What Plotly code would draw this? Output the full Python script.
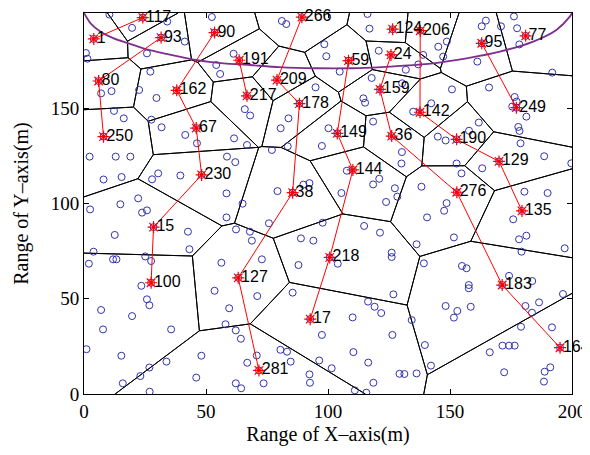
import plotly.graph_objects as go

# ---------------- data ----------------
ch_labels = ["1", "117", "93", "80", "250", "90", "162", "67", "230", "15", "100",
             "191", "217", "266", "209", "178", "38", "127", "281",
             "206", "142", "190", "129", "135",
             "59", "149", "144", "218", "17",
             "24", "159", "36", "276", "183", "164",
             "95", "249", "124", "77"]
ch_x = [4.0, 24.1, 31.6, 6.0, 8.0, 53.5, 38.0, 46.0, 48.2, 28.5, 27.5,
        63.6, 66.8, 89.3, 79.1, 88.3, 85.5, 63.2, 71.7,
        137.8, 137.7, 152.7, 170.1, 179.5,
        108.4, 103.8, 110.2, 100.7, 92.7,
        125.8, 121.3, 126.1, 152.8, 171.4, 195.1,
        163.0, 177.2, 126.5, 181.0]
ch_y = [186.4, 197.6, 187.1, 164.3, 135.1, 189.7, 159.4, 139.6, 115.0, 87.6, 58.4,
        175.2, 156.5, 197.8, 164.8, 152.4, 105.7, 61.0, 12.4,
        190.7, 147.9, 133.7, 122.1, 96.1,
        175.0, 136.8, 117.6, 71.7, 39.3,
        178.0, 159.9, 135.4, 105.9, 57.2, 24.3,
        184.1, 150.3, 191.5, 188.0]

# routing links between cluster heads (pairs of labels)
link_from = ["117", "93", "80", "90", "162", "67", "230", "15",
             "191", "266", "209", "178", "38", "127",
             "206", "142", "190", "129",
             "59", "149", "144", "218",
             "24", "159", "36", "276", "183", "95"]
link_to = ["1", "80", "250", "162", "67", "230", "15", "100",
           "217", "209", "178", "38", "127", "281",
           "142", "190", "129", "135",
           "149", "144", "218", "17",
           "159", "36", "276", "183", "164", "249"]

# ordinary sensor nodes
node_x = [
    10.4, 19.7, 34.1, 41.3, 52.4, 0.8, 1.4, 25.8, 27.2, 22.6, 29.7, 7.0, 11.3, 12.3, 16.3,
    27.6, 31.8, 41.5, 46.3, 61.5, 66.8, 65.9, 68.1, 61.3, 54.2, 55.8, 2.3, 13.0, 19.0, 8.0,
    15.4, 30.4, 27.9, 39.5, 58.6, 62.0, 58.4, 14.9,
    81.1, 82.9, 98.5, 99.3, 116.2, 117.0, 120.8, 104.8, 117.9, 130.4, 131.9, 137.0, 139.0,
    94.9, 114.5, 115.2, 118.5, 83.8, 80.6, 100.2, 97.5, 83.5, 77.0, 130.3, 130.1, 127.4,
    118.5, 121.0, 107.7, 105.5, 123.8, 128.4, 79.3, 89.9, 92.4, 138.3, 134.9,
    145.2, 148.7, 147.2, 164.7, 163.0, 170.9, 176.2, 177.5, 178.4, 161.2, 191.9, 150.8,
    166.0, 142.3, 176.5, 177.3, 175.5, 181.3, 178.0, 178.5, 161.8, 157.8, 145.0, 148.2,
    178.9, 188.6, 199.7, 152.7, 154.7, 163.2, 180.5, 190.0, 148.6, 147.6,
    2.5, 22.2, 23.8, 25.8, 12.6, 3.9, 2.0, 11.9, 13.3, 25.1, 27.5, 42.6, 43.2, 23.5, 25.8,
    26.8, 7.0, 19.7, 7.8, 35.7, 1.0, 15.3, 26.8, 33.8, 23.1, 15.9, 26.9, 48.1, 46.0,
    65.0, 58.4, 62.3, 68.0, 68.8, 75.8, 56.3, 72.9, 53.5, 59.5, 71.0, 58.0, 62.2, 64.3,
    70.8, 66.9, 80.5, 83.2, 84.7, 62.2, 64.4, 73.6, 85.5, 87.9, 88.9, 94.0, 97.5, 96.4,
    92.4, 92.6, 97.8, 114.8, 121.3, 126.1, 126.1, 104.0, 126.8, 116.4, 119.1, 121.8,
    110.1, 126.4, 110.4, 101.5, 116.5, 129.3, 131.3, 118.6, 111.0, 115.7,
    140.6, 136.3, 151.6, 175.9, 178.3, 181.3, 179.3, 197.0, 139.3, 154.9, 156.8, 157.7,
    157.7, 158.5, 153.0, 151.6, 148.2, 134.3, 139.7, 142.2, 136.3, 166.3, 171.5, 174.2,
    176.5, 172.2, 174.2, 183.7, 180.9, 186.5, 183.6, 179.1, 191.8, 196.3, 188.8, 191.1, 188.5]
node_y = [
    199.2, 192.2, 195.5, 185.0, 197.9, 179.0, 176.0, 178.8, 169.2, 159.6, 155.4, 157.8, 159.0, 148.6, 144.7,
    144.0, 140.0, 136.0, 131.6, 134.2, 130.7, 149.5, 146.2, 178.6, 172.7, 168.0, 124.6, 124.6, 124.6, 112.6,
    113.9, 115.8, 112.7, 114.7, 124.6, 121.7, 105.3, 99.6,
    195.8, 194.2, 183.6, 177.3, 199.5, 191.8, 180.2, 169.2, 165.9, 163.1, 170.2, 173.0, 178.0,
    161.0, 155.2, 152.9, 143.0, 144.7, 139.5, 139.5, 130.2, 130.0, 128.1, 127.0, 121.0, 108.0,
    110.0, 113.0, 117.2, 105.5, 100.8, 103.6, 106.5, 109.9, 110.7, 108.8, 148.2,
    182.3, 185.0, 177.1, 196.0, 193.0, 193.0, 198.2, 192.0, 183.5, 174.5, 168.7, 159.9,
    160.9, 152.6, 155.9, 153.5, 150.9, 145.6, 140.2, 138.1, 142.5, 138.2, 135.1, 133.1,
    131.6, 124.8, 121.1, 121.0, 115.8, 118.5, 106.2, 105.5, 100.2, 96.2,
    96.9, 102.7, 95.2, 96.4, 83.5, 74.7, 68.4, 70.7, 70.7, 72.2, 69.8, 85.2, 76.0, 56.8, 49.7,
    46.6, 44.1, 40.9, 33.9, 33.9, 23.5, 20.1, 13.9, 17.0, 9.4, 5.6, 1.2, 20.1, 8.6,
    99.9, 92.7, 86.4, 85.2, 80.5, 89.6, 68.9, 70.7, 54.2, 45.0, 51.4, 36.6, 33.4, 29.0,
    20.2, 16.4, 23.2, 22.2, 17.0, 5.6, 3.0, 5.6, 53.2, 67.7, 81.7, 80.5, 31.0, 17.6,
    10.3, 5.9, 89.9, 88.2, 84.7, 74.2, 71.9, 68.4, 52.3, 48.5, 45.8, 42.5,
    40.2, 31.0, 22.0, 13.5, 16.5, 10.6, 10.5, 5.9, 1.9, 0.7,
    92.7, 78.6, 82.2, 91.7, 81.2, 83.1, 74.7, 76.5, 68.6, 67.2, 66.0, 57.2,
    55.5, 45.8, 43.6, 40.1, 46.2, 38.8, 25.7, 14.9, 10.8, 21.9, 25.4, 25.4,
    25.4, 11.4, 62.0, 59.3, 46.2, 48.1, 42.7, 35.3, 35.0, 52.5, 11.7, 14.0, 6.5]

# boundary curve (purple)
curve_x = [0, 2.7, 6.8, 12.2, 18.3, 25.8, 34.0, 46.3, 57.2, 68.1, 80, 95, 110, 122,
           129.5, 143.1, 156.8, 170.4, 184.1, 193.6, 199.1, 200]
curve_y = [200, 194.6, 190.2, 186.7, 184.1, 180.9, 178.5, 175.3, 173.6, 172.7, 171.6,
           171.0, 171.0, 171.6, 172.2, 173.6, 176.2, 179.7, 185.0, 191.1, 198.1, 200]

x_ticks = [0, 50, 100, 150, 200]
y_ticks = [0, 50, 100, 150, 200]
area = (0.0, 200.0)

# ---------------- Voronoi cells of the cluster heads ----------------
def clip(poly, a, b, c):
    out = []
    n = len(poly)
    for k in range(n):
        p, q = poly[k], poly[(k + 1) % n]
        fp = a * p[0] + b * p[1] - c
        fq = a * q[0] + b * q[1] - c
        if fp <= 0:
            out.append(p)
        if (fp < 0 < fq) or (fq < 0 < fp):
            t = fp / (fp - fq)
            out.append((p[0] + t * (q[0] - p[0]), p[1] + t * (q[1] - p[1])))
    return out

lo, hi = area
vx, vy = [], []
for i in range(len(ch_x)):
    poly = [(lo, lo), (hi, lo), (hi, hi), (lo, hi)]
    for j in range(len(ch_x)):
        if i == j:
            continue
        a = ch_x[j] - ch_x[i]
        b = ch_y[j] - ch_y[i]
        c = (ch_x[j] ** 2 + ch_y[j] ** 2 - ch_x[i] ** 2 - ch_y[i] ** 2) / 2.0
        poly = clip(poly, a, b, c)
        if not poly:
            break
    n = len(poly)
    for k in range(n):
        p, q = poly[k], poly[(k + 1) % n]
        on_edge = False
        for v in (lo, hi):
            if abs(p[0] - v) < 1e-6 and abs(q[0] - v) < 1e-6:
                on_edge = True
            if abs(p[1] - v) < 1e-6 and abs(q[1] - v) < 1e-6:
                on_edge = True
        if not on_edge:
            vx += [p[0], q[0], None]
            vy += [p[1], q[1], None]

# ---------------- links ----------------
idx = {lab: k for k, lab in enumerate(ch_labels)}
lx, ly = [], []
for f, t in zip(link_from, link_to):
    lx += [ch_x[idx[f]], ch_x[idx[t]], None]
    ly += [ch_y[idx[f]], ch_y[idx[t]], None]

fig = go.Figure()
fig.add_trace(go.Scatter(x=vx, y=vy, mode="lines",
                         line=dict(color="black", width=1), hoverinfo="skip"))
fig.add_trace(go.Scatter(x=node_x + ch_x, y=node_y + ch_y, mode="markers",
                         marker=dict(symbol="circle-open", size=7,
                                     line=dict(color="rgb(50,50,175)", width=1),
                                     color="rgb(50,50,175)")))
fig.add_trace(go.Scatter(x=curve_x, y=curve_y, mode="lines",
                         line=dict(color="rgb(126,47,142)", width=1.8, shape="spline",
                                   smoothing=0.8)))
fig.add_trace(go.Scatter(x=lx, y=ly, mode="lines",
                         line=dict(color="red", width=1), hoverinfo="skip"))
fig.add_trace(go.Scatter(x=ch_x, y=ch_y, mode="markers",
                         marker=dict(symbol="asterisk-open", size=10,
                                     line=dict(color="red", width=1.2), color="red")))
fig.add_trace(go.Scatter(x=ch_x, y=ch_y, mode="markers",
                         marker=dict(symbol="circle", size=3, color="red")))
fig.add_trace(go.Scatter(x=ch_x, y=ch_y, mode="markers+text", text=ch_labels,
                         textposition="middle right", cliponaxis=False,
                         marker=dict(size=3, opacity=0),
                         textfont=dict(family="Liberation Sans, Arial", size=16,
                                       color="black")))

axis_common = dict(showgrid=False, zeroline=False, showline=True, linecolor="black",
                   linewidth=1, mirror="allticks", ticks="inside", ticklen=5,
                   tickcolor="black", automargin=False,
                   tickfont=dict(family="Liberation Serif, Times New Roman", size=19,
                                 color="black"))
# page body adds an 8px offset; margins place the plot box where the reference has it
fig.update_layout(
    width=590, height=455,
    margin=dict(l=76, r=26, t=5, b=69),
    paper_bgcolor="white", plot_bgcolor="white",
    showlegend=False,
    xaxis=dict(range=[0, 200], tickvals=x_ticks, **axis_common,
               title=dict(text="Range of X–axis(m)", standoff=6,
                          font=dict(family="Liberation Serif, Times New Roman",
                                    size=20, color="black"))),
    yaxis=dict(range=[0, 200], tickvals=y_ticks, **axis_common,
               title=dict(text="Range of Y–axis(m)", standoff=16,
                          font=dict(family="Liberation Serif, Times New Roman",
                                    size=20, color="black"))),
)
fig.write_html("out.html")
